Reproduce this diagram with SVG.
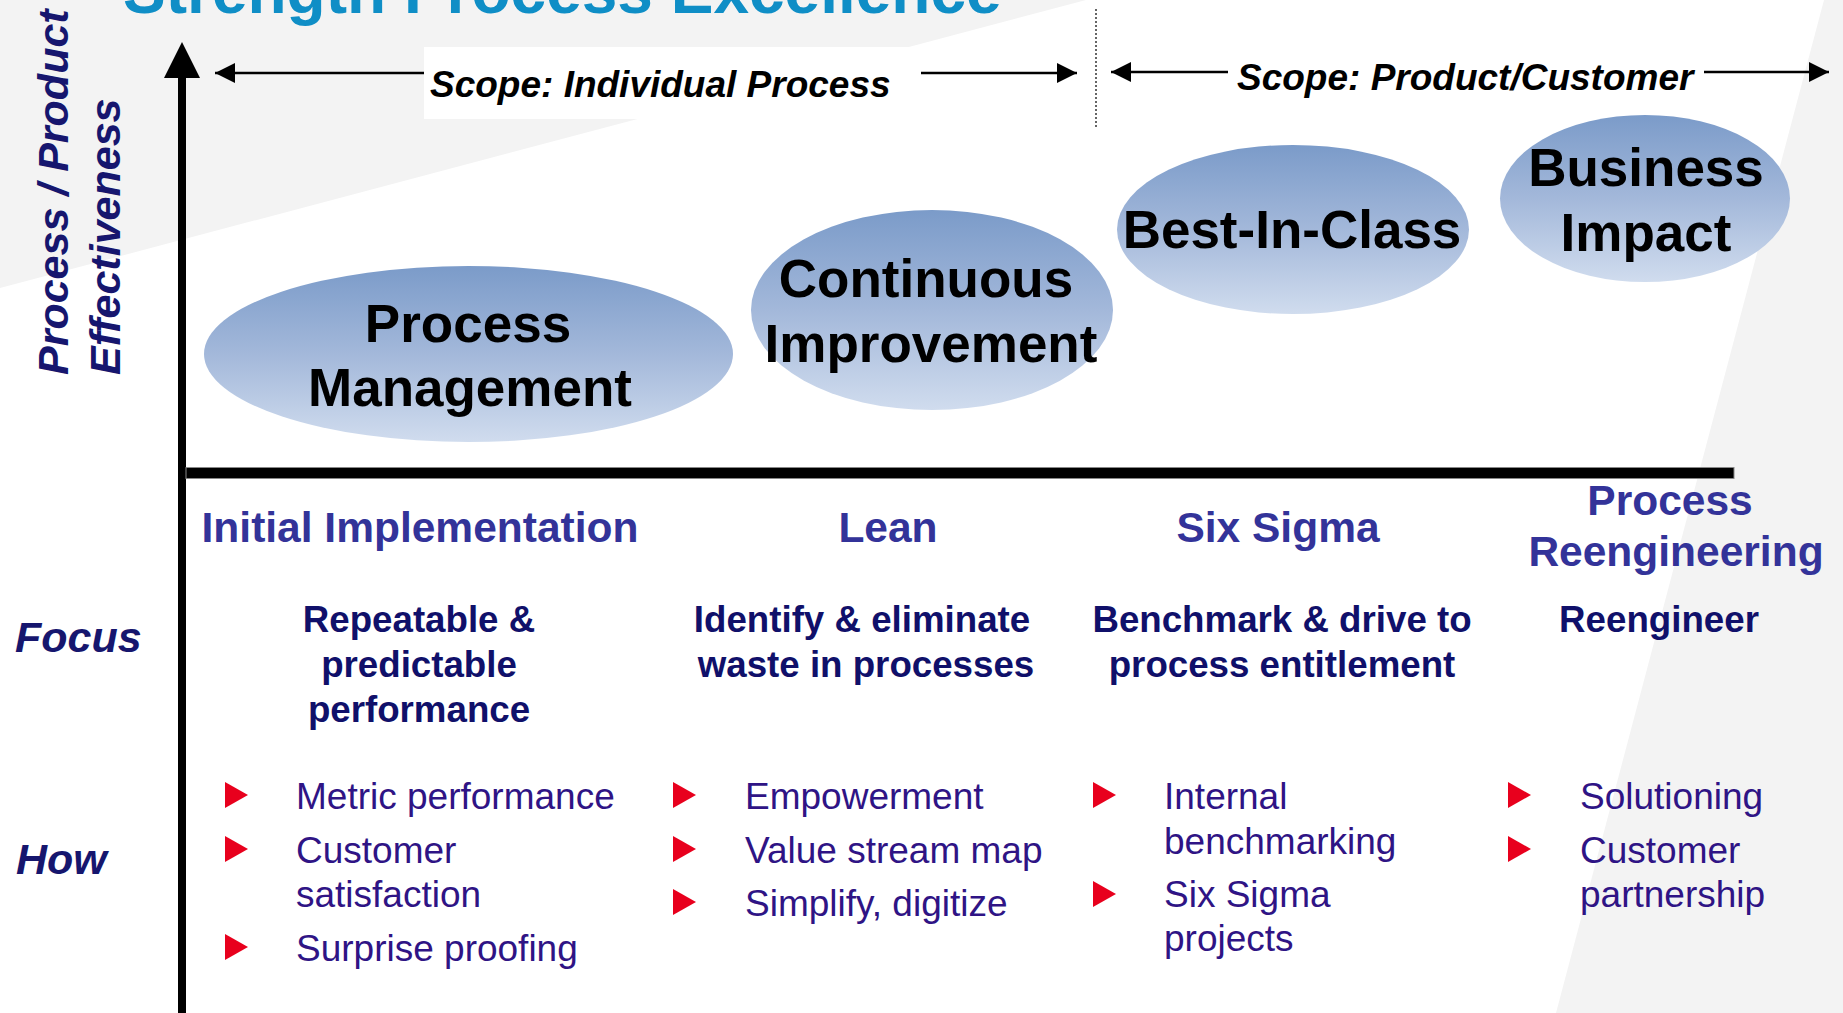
<svg xmlns="http://www.w3.org/2000/svg" width="1843" height="1013" viewBox="0 0 1843 1013">
  <defs>
    <linearGradient id="bubble" x1="0" y1="0" x2="0" y2="1">
      <stop offset="0" stop-color="#7B9BC9"/>
      <stop offset="0.5" stop-color="#A3B8DA"/>
      <stop offset="1" stop-color="#D0DCEE"/>
    </linearGradient>
    <marker id="head" markerUnits="userSpaceOnUse" markerWidth="20" markerHeight="20" refX="20" refY="10" orient="auto">
      <path d="M0,0 L20,10 L0,20 Z" fill="#000"/>
    </marker>
    <path id="bullet" d="M0,-26 L23,-13 L0,0 Z"/>
  </defs>
  <style>
    .sans { font-family: "Liberation Sans", Arial, sans-serif; }
    .title { font-size: 64px; font-weight: bold; fill: #0F8EC6; }
    .scope { font-size: 37px; font-weight: bold; font-style: italic; fill: #000; }
    .axis-label { font-size: 43px; font-weight: bold; font-style: italic; fill: #16166E; }
    .stage { font-size: 53px; font-weight: bold; fill: #000; text-anchor: middle; }
    .phase { font-size: 42.5px; font-weight: bold; fill: #333399; text-anchor: middle; }
    .focus { font-size: 36.7px; font-weight: bold; fill: #10106A; text-anchor: middle; }
    .item { font-size: 37px; fill: #2F1485; }
    .bullet { fill: #E8001D; }
    .scope-line { stroke: #000; stroke-width: 2.5; fill: none; marker-end: url(#head); }
  </style>

  <!-- background panels -->
  <rect x="0" y="0" width="1843" height="1013" fill="#FFFFFF"/>
  <polygon points="0,0 1086,0 0,288" fill="#F3F3F3"/>
  <polygon points="1824,0 1843,0 1843,1013 1556,1013" fill="#F3F3F3"/>

  <!-- heading (runs off the top edge) -->
  <text class="sans title" x="123" y="13">Strength Process Excellence</text>

  <!-- scope banners -->
  <rect x="424" y="47" width="495" height="72" fill="#FFFFFF"/>
  <line x1="1096" y1="9" x2="1096" y2="127" stroke="#333" stroke-width="1.5" stroke-dasharray="2,2"/>
  <g id="connectors">
    <line class="scope-line" x1="424" y1="73" x2="215" y2="73"/>
    <line class="scope-line" x1="921" y1="73" x2="1077" y2="73"/>
    <line class="scope-line" x1="1228" y1="72" x2="1111" y2="72"/>
    <line class="scope-line" x1="1704" y1="72" x2="1829" y2="72"/>
  </g>
  <text class="sans scope" x="430" y="97">Scope: Individual Process</text>
  <text class="sans scope" x="1237" y="90">Scope: Product/Customer</text>

  <!-- axes -->
  <g id="axes">
    <rect x="178" y="76" width="8" height="937" fill="#000"/>
    <polygon points="182,42 164,78 200,78" fill="#000"/>
    <rect x="186" y="467.5" width="1548" height="11" fill="#000" stroke="#888" stroke-width="1"/>
  </g>

  <!-- vertical axis title -->
  <text class="sans axis-label" transform="translate(68,375) rotate(-90)">Process / Product</text>
  <text class="sans axis-label" transform="translate(120,375) rotate(-90)">Effectiveness</text>

  <!-- maturity stages -->
  <g id="stage-process-management">
    <ellipse cx="468.5" cy="354" rx="264.5" ry="88" fill="url(#bubble)"/>
    <text class="sans stage" x="468" y="342">Process</text>
    <text class="sans stage" x="470" y="406">Management</text>
  </g>
  <g id="stage-continuous-improvement">
    <ellipse cx="932" cy="310" rx="181" ry="100" fill="url(#bubble)"/>
    <text class="sans stage" x="926" y="297">Continuous</text>
    <text class="sans stage" x="931" y="362">Improvement</text>
  </g>
  <g id="stage-best-in-class">
    <ellipse cx="1293" cy="229.5" rx="176" ry="84.5" fill="url(#bubble)"/>
    <text class="sans stage" x="1292" y="248">Best-In-Class</text>
  </g>
  <g id="stage-business-impact">
    <ellipse cx="1645" cy="198.5" rx="145" ry="83.5" fill="url(#bubble)"/>
    <text class="sans stage" x="1646" y="186">Business</text>
    <text class="sans stage" x="1646" y="251">Impact</text>
  </g>

  <!-- row labels -->
  <text class="sans axis-label" x="15" y="652" font-size="42">Focus</text>
  <text class="sans axis-label" x="16" y="874" font-size="42">How</text>

  <!-- column: initial implementation -->
  <g id="col-initial">
    <text class="sans phase" x="420" y="542">Initial Implementation</text>
    <text class="sans focus" x="419" y="632">Repeatable &amp;</text>
    <text class="sans focus" x="419" y="677">predictable</text>
    <text class="sans focus" x="419" y="722">performance</text>
    <use href="#bullet" class="bullet" x="225" y="808"/>
    <use href="#bullet" class="bullet" x="225" y="862"/>
    <use href="#bullet" class="bullet" x="225" y="960"/>
    <text class="sans item" x="296" y="809">Metric performance</text>
    <text class="sans item" x="296" y="863">Customer</text>
    <text class="sans item" x="296" y="907">satisfaction</text>
    <text class="sans item" x="296" y="961">Surprise proofing</text>
  </g>

  <!-- column: lean -->
  <g id="col-lean">
    <text class="sans phase" x="888" y="542">Lean</text>
    <text class="sans focus" x="862" y="632">Identify &amp; eliminate</text>
    <text class="sans focus" x="866" y="677">waste in processes</text>
    <use href="#bullet" class="bullet" x="673" y="808"/>
    <use href="#bullet" class="bullet" x="673" y="862"/>
    <use href="#bullet" class="bullet" x="673" y="915"/>
    <text class="sans item" x="745" y="809">Empowerment</text>
    <text class="sans item" x="745" y="863">Value stream map</text>
    <text class="sans item" x="745" y="916">Simplify, digitize</text>
  </g>

  <!-- column: six sigma -->
  <g id="col-six-sigma">
    <text class="sans phase" x="1278" y="542">Six Sigma</text>
    <text class="sans focus" x="1282" y="632">Benchmark &amp; drive to</text>
    <text class="sans focus" x="1282" y="677">process entitlement</text>
    <use href="#bullet" class="bullet" x="1093" y="808"/>
    <use href="#bullet" class="bullet" x="1093" y="907"/>
    <text class="sans item" x="1164" y="809">Internal</text>
    <text class="sans item" x="1164" y="854">benchmarking</text>
    <text class="sans item" x="1164" y="907">Six Sigma</text>
    <text class="sans item" x="1164" y="951">projects</text>
  </g>

  <!-- column: process reengineering -->
  <g id="col-reengineering">
    <text class="sans phase" x="1670" y="515">Process</text>
    <text class="sans phase" x="1676" y="566">Reengineering</text>
    <text class="sans focus" x="1659" y="632">Reengineer</text>
    <use href="#bullet" class="bullet" x="1508" y="808"/>
    <use href="#bullet" class="bullet" x="1508" y="862"/>
    <text class="sans item" x="1580" y="809">Solutioning</text>
    <text class="sans item" x="1580" y="863">Customer</text>
    <text class="sans item" x="1580" y="907">partnership</text>
  </g>
</svg>
